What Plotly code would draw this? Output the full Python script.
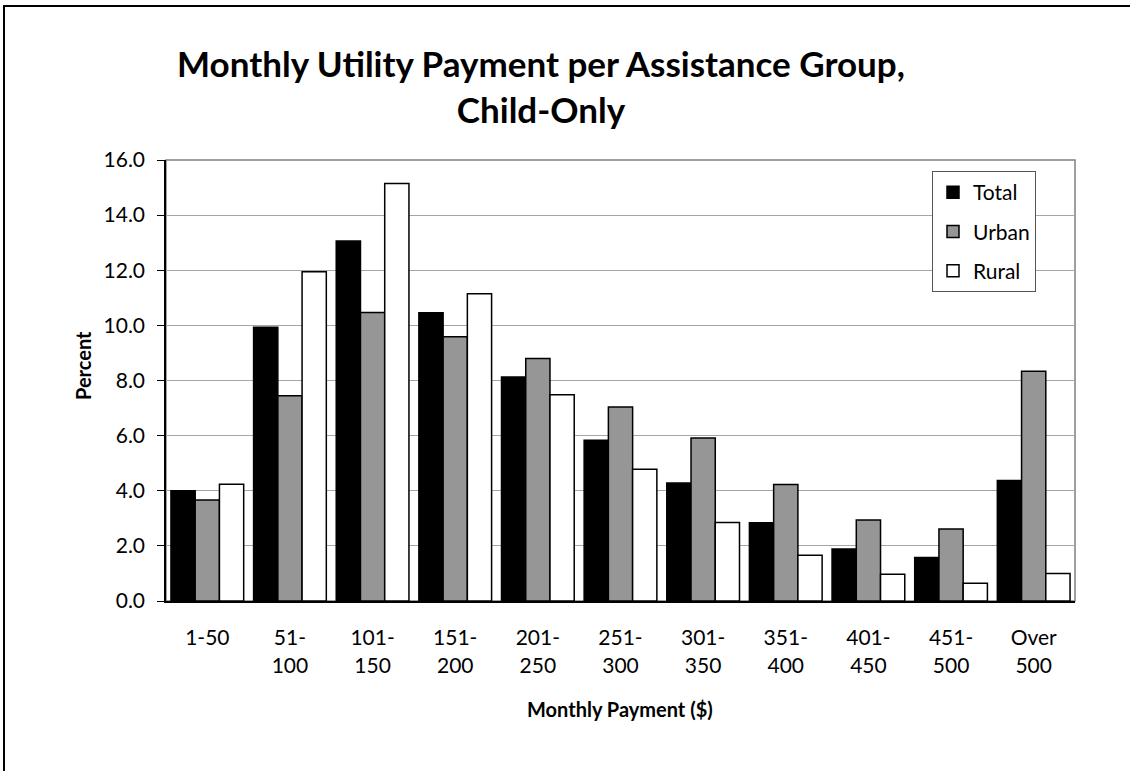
import plotly.graph_objects as go

categories = ["1-50", "51-<br>100", "101-<br>150", "151-<br>200", "201-<br>250", "251-<br>300",
              "301-<br>350", "351-<br>400", "401-<br>450", "451-<br>500", "Over<br>500"]
total = [4.0, 9.93, 13.06, 10.46, 8.13, 5.83, 4.28, 2.84, 1.89, 1.58, 4.37]
urban = [3.66, 7.45, 10.47, 9.59, 8.80, 7.04, 5.91, 4.23, 2.94, 2.61, 8.34]
rural = [4.24, 11.95, 15.15, 11.15, 7.48, 4.78, 2.85, 1.66, 0.97, 0.64, 1.0]
y_ticks = [0, 2, 4, 6, 8, 10, 12, 14, 16]

FONT = "Lato"

fig = go.Figure()
fig.add_trace(go.Bar(name="Total", x=categories, y=total, legendgroup="t",
                     marker=dict(color="#000000", line=dict(color="#000000", width=1.5))))
fig.add_trace(go.Bar(name="Urban", x=categories, y=urban, legendgroup="u",
                     marker=dict(color="#969696", line=dict(color="#000000", width=1.5))))
fig.add_trace(go.Bar(name="Rural", x=categories, y=rural, legendgroup="r",
                     marker=dict(color="#ffffff", line=dict(color="#000000", width=1.5))))

L, R, T, B = 166, 55, 160, 170
W, H = 1130, 771
pw, ph = W - L - R, H - T - B

def px(x):
    return (x - L) / pw

def py(y):
    return (H - B - y) / ph

fig.update_layout(
    width=W, height=H,
    margin=dict(l=L, r=R, t=T, b=B),
    paper_bgcolor="white", plot_bgcolor="white",
    barmode="group", bargap=0.12, bargroupgap=0,
    font=dict(family=FONT, size=21, color="black"),
    title=dict(text="<b>Monthly Utility Payment per Assistance Group,<br>Child-Only</b>",
               x=px(541), xanchor="center", xref="paper",
               y=1 - 77 / H, yanchor="top",
               font=dict(family=FONT, size=35, color="black")),
    legend=dict(x=px(932), y=py(171), xanchor="left", yanchor="top",
                bgcolor="white", bordercolor="#555555", borderwidth=1,
                font=dict(size=21), tracegroupgap=9, itemwidth=30,
                entrywidth=78, entrywidthmode="pixels"),
    showlegend=True,
    annotations=[
        dict(text="<b>Percent</b>", xref="paper", yref="paper", x=px(83), y=py(366),
             xanchor="center", yanchor="middle", textangle=-90, showarrow=False,
             font=dict(size=20)),
        dict(text="<b>Monthly Payment ($)</b>", xref="paper", yref="paper", x=px(620), y=py(709),
             xanchor="center", yanchor="middle", showarrow=False, font=dict(size=20)),
    ],
    shapes=[
        dict(type="rect", xref="paper", yref="paper", x0=0, x1=1, y0=0, y1=1,
             line=dict(color="#808080", width=1.5), fillcolor="rgba(0,0,0,0)", layer="below"),
        dict(type="rect", xref="paper", yref="paper", x0=px(4), x1=px(1140), y0=py(6), y1=py(800),
             line=dict(color="black", width=2), fillcolor="rgba(0,0,0,0)"),
    ],
)
fig.update_xaxes(
    showline=True, linecolor="black", linewidth=2,
    ticks="", tickfont=dict(size=21), showgrid=False, ticklabelstandoff=17,
)
fig.update_yaxes(
    range=[0, 16], tickvals=y_ticks, tickformat=".1f",
    showline=True, linecolor="black", linewidth=1.5,
    ticks="outside", ticklen=7, tickcolor="black",
    showgrid=True, gridcolor="#a6a6a6", gridwidth=1.2,
    tickfont=dict(size=21), ticklabelstandoff=8,
    zeroline=False,
)
fig.write_html("out.html", config={"displayModeBar": False},
               post_script="document.body.style.margin='0';document.body.style.padding='0';")
